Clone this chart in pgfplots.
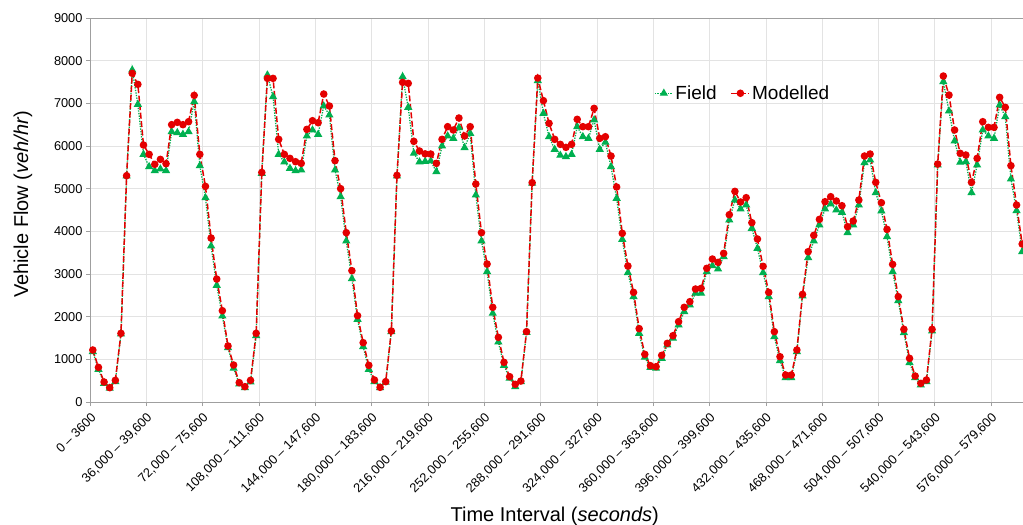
\documentclass[border=0pt]{standalone}
\usepackage{pgfplots}
\pgfplotsset{compat=1.18}
\usepackage{pgfplotstable}
\usepackage{fontspec}
\setmainfont{Liberation Sans}
\definecolor{fieldgreen}{RGB}{0,176,80}
\definecolor{modred}{RGB}{228,0,0}

\pgfplotstableread{
i F M
0 1180 1219
1 765 812
2 437 469
3 320 336
4 476 508
5 1593 1609
6 5296 5304
7 7781 7703
8 6976 7445
9 5804 6023
10 5515 5804
11 5421 5570
12 5460 5687
13 5421 5585
14 6335 6500
15 6312 6554
16 6273 6500
17 6335 6570
18 7038 7187
19 5538 5804
20 4788 5054
21 3656 3843
22 2734 2882
23 2015 2140
24 1273 1312
25 789 867
26 422 453
27 336 359
28 469 508
29 1555 1609
30 5359 5380
31 7663 7585
32 7156 7585
33 5804 6156
34 5625 5804
35 5476 5710
36 5421 5632
37 5437 5593
38 6234 6390
39 6374 6593
40 6273 6546
41 6937 7218
42 6726 6937
43 5437 5656
44 4812 5000
45 3773 3968
46 2890 3078
47 1937 2023
48 1297 1390
49 765 859
50 477 516
51 336 344
52 461 477
53 1648 1664
54 5296 5312
55 7624 7492
56 6906 7468
57 5828 6109
58 5625 5882
59 5640 5816
60 5648 5812
61 5398 5593
62 6000 6156
63 6234 6453
64 6179 6375
65 6429 6656
66 5960 6234
67 6296 6453
68 4851 5109
69 3773 3968
70 3054 3234
71 2078 2219
72 1406 1515
73 859 930
74 555 594
75 359 414
76 477 492
77 1632 1648
78 5125 5140
79 7531 7593
80 6765 7062
81 6218 6531
82 5921 6156
83 5781 6039
84 5750 5968
85 5804 6039
86 6453 6625
87 6218 6453
88 6179 6453
89 6609 6882
90 5921 6179
91 6086 6218
92 5515 5765
93 4773 5039
94 3812 3953
95 3031 3187
96 2469 2570
97 1609 1719
98 1047 1117
99 812 851
100 789 828
101 1023 1094
102 1336 1375
103 1492 1554
104 1805 1883
105 2117 2219
106 2273 2351
107 2547 2648
108 2547 2664
109 3054 3133
110 3195 3351
111 3117 3273
112 3406 3484
113 4265 4390
114 4734 4937
115 4523 4687
116 4617 4789
117 4070 4203
118 3601 3820
119 3031 3180
120 2469 2570
121 1531 1648
122 969 1062
123 570 633
124 570 633
125 1180 1219
126 2484 2523
127 3383 3523
128 3773 3906
129 4148 4281
130 4523 4695
131 4640 4812
132 4500 4711
133 4445 4601
134 3968 4109
135 4148 4242
136 4617 4734
137 5609 5765
138 5671 5812
139 4906 5148
140 4476 4671
141 3875 4046
142 3054 3226
143 2375 2469
144 1625 1703
145 922 1023
146 570 609
147 398 437
148 477 516
149 1664 1703
150 5554 5578
151 7507 7640
152 6820 7195
153 6117 6375
154 5617 5828
155 5632 5789
156 4906 5148
157 5554 5710
158 6375 6570
159 6234 6437
160 6179 6437
161 6960 7140
162 6687 6906
163 5226 5539
164 4484 4617
165 3523 3703
}\data

\begin{document}
\begin{tikzpicture}
\path[use as bounding box] (-90bp,-123bp) rectangle (933bp,402bp);
\begin{axis}[
 at={(0,0)}, anchor=south west,
 scale only axis, width=935bp, height=384bp,
 xmin=-0.5, xmax=165.5, ymin=0, ymax=9000,
 xtick={-0.5,9.5,...,159.5},
 xticklabels={{0 – 3600},{36,000 – 39,600},{72,000 – 75,600},{108,000 – 111,600},{144,000 – 147,600},{180,000 – 183,600},{216,000 – 219,600},{252,000 – 255,600},{288,000 – 291,600},{324,000 – 327,600},{360,000 – 363,600},{396,000 – 399,600},{432,000 – 435,600},{468,000 – 471,600},{504,000 – 507,600},{540,000 – 543,600},{576,000 – 579,600}},
 ytick={0,1000,...,9000},
 scaled y ticks=false,
 /pgf/number format/1000 sep={},
 /pgf/number format/assume math mode=true,
 tick align=outside, major tick length=4bp,
 tick pos=left,
 grid=major, major grid style={gray!22, line width=0.8bp},
 axis line style={gray!75, line width=0.8bp},
 tick style={gray!75, line width=0.8bp},
 ticklabel style={font=\fontsize{12.8bp}{15bp}\selectfont},
 xticklabel style={xshift=6bp, yshift=-7bp, rotate=45, anchor=east},
 ylabel={Vehicle Flow (\textit{veh/hr})},
 xlabel={Time Interval (\textit{seconds})},
 label style={font=\fontsize{20bp}{24bp}\selectfont},
 ylabel style={at={(axis description cs:-0.0717,0.515)}, anchor=center},
 xlabel style={at={(axis description cs:0.497,-0.3117)}, anchor=base},
 legend style={draw=none, fill=none, at={(axis description cs:0.6,0.804)}, anchor=west, legend columns=2, font=\fontsize{19bp}{22bp}\selectfont, /tikz/every even column/.append style={column sep=12bp}},
 legend image code/.code={\draw[mark repeat=2,mark phase=2,#1] plot coordinates {(0bp,0bp) (9bp,0bp) (18bp,0bp)};},
 clip=false,
]
\addplot[fieldgreen, line width=1.3bp, dash pattern=on 1.3bp off 1.3bp, mark=triangle*, mark size=3.5bp, mark options={solid}] table[x=i,y=F]{\data};
\addlegendentry{Field}
\addplot[modred, line width=1.5bp, dash pattern=on 6bp off 2.5bp, mark=*, mark size=3bp, mark options={solid}] table[x=i,y=M]{\data};
\addlegendentry{Modelled}
\end{axis}
\end{tikzpicture}
\end{document}
